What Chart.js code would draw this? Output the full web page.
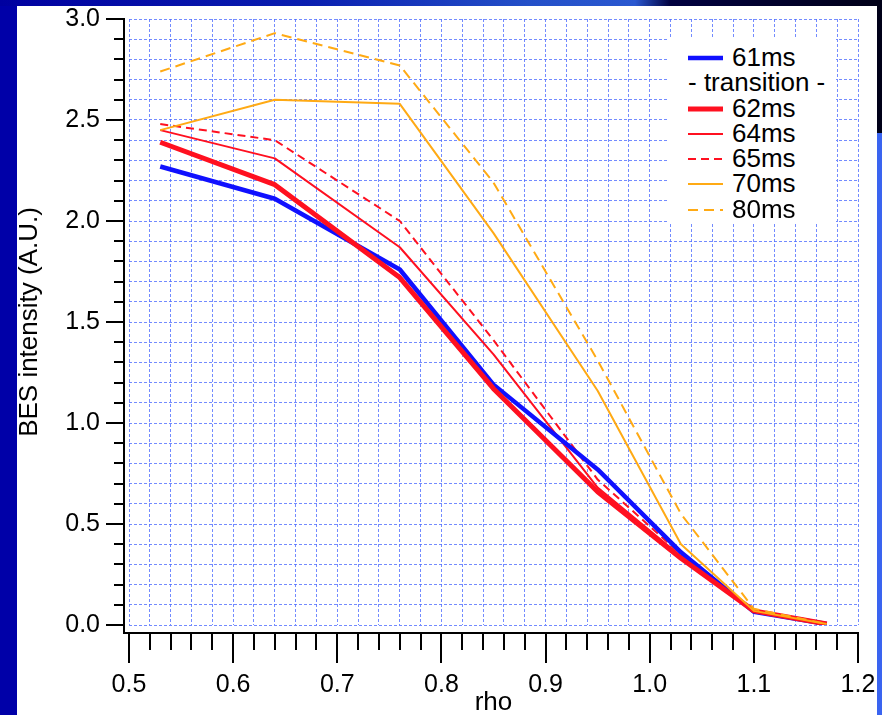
<!DOCTYPE html>
<html>
<head>
<meta charset="utf-8">
<script src="https://cdn.jsdelivr.net/npm/chart.js@4/dist/chart.umd.min.js"></script>
<style>
  html, body { margin: 0; padding: 0; width: 882px; height: 715px; overflow: hidden; background: #0000a8; font-family: "Liberation Sans", Arial, sans-serif; }
  #topstrip { position: absolute; left: 0; top: 0; width: 882px; height: 6px;
    background: linear-gradient(90deg, #0000a0 0%, #0a1fb0 35%, #2450c8 60%, #2a58d0 72%, #000040 76%, #000018 100%); }
  #rightstrip { position: absolute; left: 877px; top: 0; width: 5px; height: 715px;
    background: linear-gradient(180deg, #000018 0px, #000018 133px, #3a64f0 133px, #3a64f0 715px); }
  #panel { position: absolute; left: 17px; top: 6px; width: 860px; height: 709px; background: #ffffff; }
  #wrap { position: absolute; left: 0; top: 0; width: 882px; height: 715px; }
  #legend { position: absolute; left: 668px; top: 37px; width: 168px; height: 185px; background: #ffffff;
    padding-top: 8px; box-sizing: border-box; }
  .row { height: 25.3px; line-height: 25px; font-size: 26px; color: #000; white-space: nowrap; position: relative; }
  .row svg { position: absolute; left: 20px; top: 0; }
  .row span { position: absolute; left: 64px; top: 0; }
  .row.plain span { left: 20px; }
</style>
</head>
<body>
<div id="topstrip"></div>
<div id="rightstrip"></div>
<div id="panel"></div>
<div id="wrap"><canvas id="c" width="882" height="715"></canvas></div>
<div id="legend"></div>
<script>
// ---- data ----
const rho = [0.53, 0.64, 0.76, 0.85, 0.95, 1.03, 1.10, 1.17];
const s61 = [2.27, 2.11, 1.76, 1.19, 0.77, 0.36, 0.065, 0.005];
const s62 = [2.39, 2.18, 1.72, 1.17, 0.66, 0.33, 0.07, 0.005];
const s64 = [2.45, 2.31, 1.87, 1.34, 0.68, 0.34, 0.07, 0.005];
const s65 = [2.48, 2.40, 2.00, 1.41, 0.72, 0.35, 0.07, 0.005];
const s70 = [2.45, 2.60, 2.58, 1.94, 1.16, 0.40, 0.07, 0.005];
const s80 = [2.74, 2.93, 2.77, 2.19, 1.31, 0.55, 0.08, 0.005];
const seriesNames = ['61ms', '62ms', '64ms', '65ms', '70ms', '80ms'];
const xTickLabels = ['0.5', '0.6', '0.7', '0.8', '0.9', '1.0', '1.1', '1.2'];
const yTickLabels = ['0.0', '0.5', '1.0', '1.5', '2.0', '2.5', '3.0'];

const BLUE = '#1010ff', RED = '#ff1020', ORANGE = '#ffaa14';
const pts = (ys) => rho.map((x, i) => ({ x: x, y: ys[i] }));

const styles = [
  { color: BLUE, width: 4.5, dash: [], order: 3 },
  { color: RED, width: 5, dash: [], order: 2 },
  { color: RED, width: 2, dash: [], order: 4 },
  { color: RED, width: 2, dash: [8, 5], order: 5 },
  { color: ORANGE, width: 2, dash: [], order: 1 },
  { color: ORANGE, width: 2, dash: [10, 6], order: 0 }
];
const allSeries = [s61, s62, s64, s65, s70, s80];

const datasets = allSeries.map((s, i) => ({
  label: seriesNames[i],
  data: pts(s),
  borderColor: styles[i].color,
  backgroundColor: styles[i].color,
  borderWidth: styles[i].width,
  borderDash: styles[i].dash,
  pointRadius: 0,
  tension: 0,
  fill: false,
  order: styles[i].order,
  borderCapStyle: 'butt',
  borderJoinStyle: 'round'
}));

const isMult = (v, step) => Math.abs(v / step - Math.round(v / step)) < 1e-6;

// draws the Igor-style offset axes with major/minor ticks
const axesPlugin = {
  id: 'igorAxes',
  afterDraw(chart) {
    const ctx = chart.ctx, ca = chart.chartArea;
    const xs = chart.scales.x, ys = chart.scales.y;
    const ax = ca.left - 5, ay = ca.bottom + 8;
    ctx.save();
    ctx.strokeStyle = '#000';
    ctx.lineWidth = 2;
    ctx.lineCap = 'butt';
    ctx.beginPath();
    ctx.moveTo(ax, ca.top - 1); ctx.lineTo(ax, ay + 1);
    ctx.moveTo(ax - 1, ay); ctx.lineTo(ca.right + 1, ay);
    xs.ticks.forEach(t => {
      const px = Math.round(xs.getPixelForValue(t.value));
      const len = isMult(t.value, 0.1) ? 30 : 17;
      ctx.moveTo(px, ay); ctx.lineTo(px, ay + len);
    });
    ys.ticks.forEach(t => {
      const py = Math.round(ys.getPixelForValue(t.value));
      const len = isMult(t.value, 0.5) ? 18 : 10;
      ctx.moveTo(ax, py); ctx.lineTo(ax - len, py);
    });
    ctx.stroke();
    ctx.restore();
  }
};

const gridColor = 'rgba(80,110,255,0.8)';
const zeroPad = (s) => { s.paddingLeft = 0; s.paddingRight = 0; s.paddingTop = 0; s.paddingBottom = 0; };

new Chart(document.getElementById('c'), {
  type: 'line',
  data: { datasets: datasets },
  options: {
    responsive: false,
    animation: false,
    layout: { padding: { left: 0, right: 24, top: 19, bottom: 0 } },
    plugins: { legend: { display: false }, tooltip: { enabled: false } },
    scales: {
      x: {
        type: 'linear', min: 0.5, max: 1.2,
        afterFit(s) { s.height = 90; zeroPad(s); },
        border: { display: false, dash: [3, 2] },
        grid: { color: gridColor, lineWidth: 1, drawTicks: false },
        ticks: {
          stepSize: 0.02, autoSkip: false, maxRotation: 0, padding: 45,
          color: '#000', font: { family: 'Liberation Sans, Arial', size: 25 },
          callback: (v) => isMult(v, 0.1) ? xTickLabels[Math.round((v - 0.5) * 10)] : ''
        },
        title: { display: true, text: 'rho', color: '#000', padding: 0,
          font: { family: 'Liberation Sans, Arial', size: 26, lineHeight: 0.9 } }
      },
      y: {
        type: 'linear', min: 0, max: 3.0,
        afterFit(s) { s.width = 129; zeroPad(s); },
        border: { display: false, dash: [3, 2] },
        grid: { color: gridColor, lineWidth: 1, drawTicks: false },
        ticks: {
          stepSize: 0.1, autoSkip: false, padding: 29,
          color: '#000', font: { family: 'Liberation Sans, Arial', size: 25 },
          callback: (v) => isMult(v, 0.5) ? yTickLabels[Math.round(v * 2)] : ''
        },
        title: { display: true, text: 'BES intensity (A.U.)', color: '#000', padding: { top: 14, bottom: 0 },
          font: { family: 'Liberation Sans, Arial', size: 26, lineHeight: 1.2 } }
      }
    }
  },
  plugins: [axesPlugin]
});

// legend (HTML), built from the dataset styles
const legendRows = [
  { i: 0 }, { text: '- transition -' }, { i: 1 }, { i: 2 }, { i: 3 }, { i: 4 }, { i: 5 }
];
const leg = document.getElementById('legend');
legendRows.forEach(r => {
  const row = document.createElement('div');
  row.className = 'row' + (r.text ? ' plain' : '');
  if (r.text) {
    row.innerHTML = '<span>' + r.text + '</span>';
  } else {
    const st = styles[r.i];
    const dash = st.dash.length ? ' stroke-dasharray="' + st.dash.join(',') + '"' : '';
    row.innerHTML = '<svg width="36" height="25"><line x1="0" y1="13" x2="35" y2="13" stroke="' + st.color +
      '" stroke-width="' + st.width + '"' + dash + '/></svg><span>' + seriesNames[r.i] + '</span>';
  }
  leg.appendChild(row);
});
</script>
</body>
</html>
